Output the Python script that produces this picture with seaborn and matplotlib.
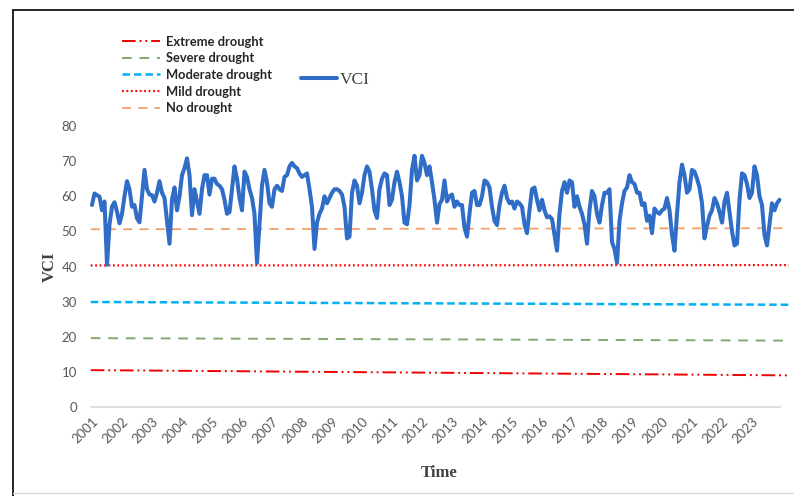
import numpy as np
import pandas as pd
import matplotlib
matplotlib.use("Agg")
import matplotlib.pyplot as plt
from matplotlib.lines import Line2D
import seaborn as sns

# Monthly VCI, January 2001 - December 2023
vci_2001 = [57.5, 60.8, 60.3, 59.9, 56.0, 58.5, 40.5, 52.0, 57.0, 58.3, 55.6, 52.3]
vci_2002 = [55.0, 60.0, 64.3, 62.0, 57.0, 57.5, 53.7, 52.6, 60.0, 67.5, 62.0, 60.5]
vci_2003 = [60.3, 58.5, 61.0, 64.3, 61.0, 59.5, 53.0, 46.5, 59.0, 62.5, 56.0, 60.0]
vci_2004 = [66.0, 68.0, 70.8, 66.0, 54.6, 62.0, 58.5, 55.0, 62.0, 66.0, 66.0, 60.5]
vci_2005 = [65.0, 65.0, 63.5, 63.0, 62.0, 59.0, 55.0, 55.5, 62.0, 68.5, 65.0, 59.5]
vci_2006 = [56.0, 67.0, 65.5, 62.0, 59.5, 55.0, 41.0, 52.0, 63.0, 67.5, 64.0, 58.0]
vci_2007 = [57.0, 62.0, 63.0, 62.0, 61.5, 65.5, 66.0, 68.5, 69.5, 68.5, 68.0, 66.5]
vci_2008 = [65.5, 66.0, 66.5, 62.0, 57.0, 45.0, 52.5, 55.0, 56.5, 60.0, 58.0, 59.5]
vci_2009 = [61.0, 62.0, 62.0, 61.5, 60.5, 57.0, 48.0, 48.5, 61.0, 64.5, 63.0, 58.0]
vci_2010 = [61.0, 66.0, 68.5, 67.0, 62.0, 56.0, 53.8, 62.0, 65.0, 66.5, 66.0, 57.5]
vci_2011 = [59.0, 64.0, 67.0, 64.0, 60.0, 52.5, 52.0, 57.5, 67.5, 71.5, 64.5, 66.0]
vci_2012 = [71.5, 69.5, 66.0, 68.5, 64.0, 59.0, 52.5, 57.8, 59.0, 64.5, 58.5, 60.0]
vci_2013 = [60.5, 57.0, 58.5, 57.5, 57.5, 51.0, 48.5, 55.0, 61.0, 61.5, 57.5, 57.5]
vci_2014 = [60.0, 64.5, 64.0, 62.5, 57.0, 53.0, 51.8, 57.5, 61.0, 63.0, 59.5, 58.0]
vci_2015 = [58.5, 56.5, 58.5, 58.0, 57.0, 52.0, 49.5, 56.0, 62.0, 62.5, 59.0, 56.0]
vci_2016 = [59.0, 56.0, 54.0, 54.3, 53.5, 49.0, 44.5, 55.0, 61.5, 64.0, 61.0, 64.5]
vci_2017 = [64.0, 57.0, 60.0, 57.0, 55.0, 52.0, 46.5, 56.0, 61.5, 60.0, 55.0, 52.5]
vci_2018 = [57.5, 61.0, 61.0, 62.0, 47.0, 45.0, 41.0, 53.0, 58.0, 61.5, 62.5, 66.0]
vci_2019 = [64.0, 63.5, 61.0, 61.0, 57.5, 58.0, 53.0, 54.5, 49.5, 56.5, 55.5, 55.0]
vci_2020 = [56.0, 56.5, 59.5, 56.0, 49.0, 44.5, 55.0, 64.0, 69.0, 66.0, 61.0, 62.0]
vci_2021 = [67.5, 67.0, 65.0, 62.5, 58.0, 48.0, 51.5, 54.5, 56.0, 59.5, 58.0, 55.5]
vci_2022 = [52.5, 58.5, 61.0, 55.5, 50.0, 46.0, 46.5, 59.0, 66.5, 66.0, 63.5, 59.5]
vci_2023 = [61.0, 68.5, 66.0, 60.0, 57.5, 49.0, 46.0, 52.0, 58.0, 56.0, 58.0, 59.0]

years = list(range(2001, 2024))
year_labels = [str(y) for y in years]

# Drought class threshold lines (value at first and last point)
threshold_names = ["Extreme drought", "Severe drought", "Moderate drought",
                   "Mild drought", "No drought"]
threshold_start = [10.5, 19.6, 29.9, 40.3, 50.6]
threshold_end = [9.0, 18.9, 29.1, 40.4, 50.9]

vci = (vci_2001 + vci_2002 + vci_2003 + vci_2004 + vci_2005 + vci_2006 +
       vci_2007 + vci_2008 + vci_2009 + vci_2010 + vci_2011 + vci_2012 +
       vci_2013 + vci_2014 + vci_2015 + vci_2016 + vci_2017 + vci_2018 +
       vci_2019 + vci_2020 + vci_2021 + vci_2022 + vci_2023)
df = pd.DataFrame({"month": np.arange(len(vci)), "VCI": vci})

sns.set_theme(style="white")
plt.rcParams["font.family"] = ["Lato", "DejaVu Sans"]

fig = plt.figure(figsize=(7.94, 4.96), dpi=100)
W, H = 794, 496
ax = fig.add_axes([88 / W, (H - 407) / H, (790 - 88) / W, (407 - 126) / H])

n = len(vci)
px_per_month = 2.5
x_left = -(92 - 88) / px_per_month
x_right = (790 - 92) / px_per_month
ax.set_xlim(x_left, x_right)
ax.set_ylim(0, 80)

styles = [
    dict(color="#F00000", lw=1.4, dashes=(7, 2, 1, 2, 1, 2)),
    dict(color="#86A870", lw=1.4, dashes=(5, 4)),
    dict(color="#00B0F0", lw=1.8, dashes=(3, 1.6)),
    dict(color="#FF0000", lw=1.6, dashes=(0.8, 1.2)),
    dict(color="#F4A06A", lw=1.3, dashes=(5, 4)),
]
x_thr = [-0.5, x_right - 0.5]
for name, y0, y1, st in zip(threshold_names, threshold_start, threshold_end, styles):
    ax.plot(x_thr, [y0, y1], label=name, clip_on=False, **st)

sns.lineplot(data=df, x="month", y="VCI", ax=ax, color="#2F6DC6", lw=2.9,
             legend=False)

# axes decoration
for s in ["left", "right", "top"]:
    ax.spines[s].set_visible(False)
ax.spines["bottom"].set_color("#D9D9D9")
ax.spines["bottom"].set_linewidth(1.2)
ax.spines["bottom"].set_bounds(-0.5, (780 - 92) / px_per_month)

ax.set_yticks(range(0, 81, 10))
ax.set_xticks(np.arange(0, n, 12))
ax.set_xticklabels(year_labels, rotation=45, ha="right", rotation_mode="anchor")
ax.tick_params(axis="y", length=0, pad=8, labelsize=9.5, labelcolor="#595959")
ax.tick_params(axis="x", length=0, pad=6, labelsize=9.5, labelcolor="#595959")

ax.set_xlabel("Time", family=["Liberation Serif", "DejaVu Serif"], fontsize=12,
              fontweight="bold", color="#404040", labelpad=14)
ax.set_ylabel("VCI", family=["Liberation Serif", "DejaVu Serif"], fontsize=12,
              fontweight="bold", color="#404040", labelpad=3)

# legends
h, l = ax.get_legend_handles_labels()
leg1 = fig.legend(h[:5], l[:5], loc="upper left", bbox_to_anchor=(110 / W, 1 - 24 / H),
                  frameon=False, handlelength=2.95, handletextpad=0.45,
                  labelspacing=0.36, prop=dict(family="Lato", weight="bold", size=9.3))
vci_handle = Line2D([], [], color="#2F6DC6", lw=2.9)
leg2 = fig.legend([vci_handle], ["VCI"], loc="upper left",
                  bbox_to_anchor=(285 / W, 1 - 56 / H), frameon=False,
                  handlelength=2.1, handletextpad=0.15,
                  prop=dict(family="Liberation Serif", size=12.5))
for t in leg2.get_texts():
    t.set_color("#404040")

# outer chart frame
fig.add_artist(Line2D([13 / W, 13 / W], [0, 1 - 10 / H], color="black", lw=1.2,
                      transform=fig.transFigure))
fig.add_artist(Line2D([13 / W, 1], [1 - 10 / H, 1 - 10 / H], color="black", lw=1.2,
                      transform=fig.transFigure))
fig.add_artist(Line2D([13 / W, 1], [3 / H, 3 / H], color="#D9D9D9", lw=1.0,
                      transform=fig.transFigure))

fig.savefig("out.png", dpi=100)
